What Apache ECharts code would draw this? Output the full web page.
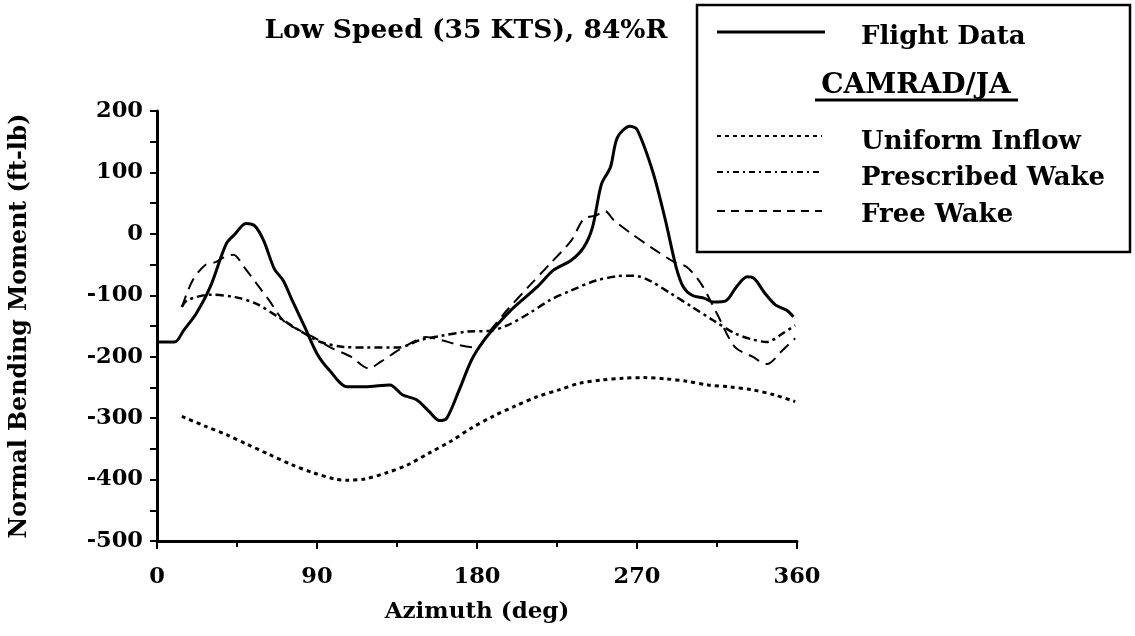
<!DOCTYPE html>
<html><head><meta charset="utf-8">
<script src="https://cdn.jsdelivr.net/npm/echarts@6/dist/echarts.min.js"></script>
<style>html,body{margin:0;padding:0;background:#fff}#c{width:1135px;height:636px}</style>
</head><body><div id="c"></div>
<script>
const xTicks = [0, 90, 180, 270, 360];
const yTicks = [200, 100, 0, -100, -200, -300, -400, -500];

const flightAz  = [0,10,15,22,30,39,44,50,55,60,66,71,76,83,90,97,107,117,131,138,146,153,159,163,170,177,184,192,201,214,223,233,240,245,250,255,259,266,270,279,286,292,296,301,308,313,320,326,332,336,342,348,354,358];
const flightVal = [-176,-176,-157,-130,-86,-16,0,17,13,-11,-57,-76,-108,-151,-195,-222,-249,-249,-246,-262,-270,-289,-304,-300,-254,-205,-173,-146,-119,-86,-59,-43,-22,11,81,108,157,175,170,100,22,-54,-86,-100,-105,-111,-109,-86,-70,-73,-97,-116,-124,-135];

const uniformAz  = [14,27,39,51,63,76,88,100,107,117,129,141,153,165,177,189,201,214,226,238,250,262,274,286,298,310,322,335,347,359];
const uniformVal = [-297,-313,-327,-343,-359,-376,-389,-399,-401,-399,-389,-376,-357,-338,-316,-297,-281,-265,-254,-243,-238,-235,-234,-236,-240,-246,-249,-254,-262,-273];

const prescAz  = [14,17,30,44,56,68,80,92,105,117,136,148,160,175,187,197,209,221,233,247,259,268,277,289,301,313,325,335,343,352,359];
const prescVal = [-119,-108,-99,-103,-114,-135,-157,-176,-184,-185,-185,-173,-166,-159,-158,-149,-130,-108,-92,-76,-69,-68,-76,-97,-119,-141,-162,-172,-176,-162,-149];

const freeAz  = [14,20,27,33,38,43,49,56,63,71,78,88,97,109,119,126,136,146,151,160,170,180,187,197,209,221,233,240,247,252,257,267,279,291,298,306,315,325,335,343,352,359];
const freeVal = [-119,-76,-51,-46,-38,-34,-54,-81,-108,-141,-154,-168,-184,-200,-219,-208,-189,-173,-168,-173,-181,-185,-159,-124,-86,-49,-11,24,30,37,22,0,-24,-46,-54,-81,-130,-184,-200,-212,-189,-170];

const zip = (a, b) => a.map((x, i) => [x, b[i]]);
const FONT = '"DejaVu Serif", "Liberation Serif", serif';

const chart = echarts.init(document.getElementById('c'), null, {renderer: 'canvas'});
const lineS = (name, az, val, type, w) => ({
  name, type: 'line', data: zip(az, val), showSymbol: false, smooth: 0.3,
  lineStyle: {color: '#000', width: w, type: type}, z: 3
});
const lg = {fontFamily: FONT, fontWeight: 'bold', fontSize: 26, fill: '#000', textVerticalAlign: 'middle'};

chart.setOption({
  animation: false,
  backgroundColor: '#fff',
  title: {
    text: 'Low Speed (35 KTS), 84%R', left: 461, top: 13, textAlign: 'center',
    textStyle: {fontFamily: FONT, fontWeight: 'bold', fontSize: 26.5, color: '#000'}
  },
  grid: {left: 157, right: 338, top: 111, bottom: 95, containLabel: false, outerBoundsMode: 'none'},
  xAxis: {
    type: 'value', min: 0, max: 360, interval: 90,
    name: 'Azimuth (deg)', nameLocation: 'middle', nameGap: 60,
    nameTextStyle: {fontFamily: FONT, fontWeight: 'bold', fontSize: 23, color: '#000'},
    axisLine: {onZero: false, lineStyle: {color: '#000', width: 3}},
    axisTick: {show: true, length: 8, lineStyle: {color: '#000', width: 2}},
    minorTick: {show: true, splitNumber: 2, length: 6, lineStyle: {color: '#000', width: 2}},
    splitLine: {show: false},
    axisLabel: {fontFamily: FONT, fontWeight: 'bold', fontSize: 22.5, color: '#000', margin: 25,
      formatter: v => xTicks.includes(v) ? String(v) : ''}
  },
  yAxis: {
    type: 'value', min: -500, max: 200, interval: 100,
    name: 'Normal Bending Moment (ft-lb)', nameLocation: 'middle', nameGap: 125,
    nameTextStyle: {fontFamily: FONT, fontWeight: 'bold', fontSize: 23.7, color: '#000'},
    axisLine: {show: true, onZero: false, lineStyle: {color: '#000', width: 3}},
    axisTick: {show: true, length: 7, lineStyle: {color: '#000', width: 2}},
    minorTick: {show: true, splitNumber: 2, length: 7, lineStyle: {color: '#000', width: 2}},
    splitLine: {show: false},
    axisLabel: {fontFamily: FONT, fontWeight: 'bold', fontSize: 22.5, color: '#000', margin: 14,
      formatter: v => yTicks.includes(v) ? String(v) : ''}
  },
  series: [
    lineS('Flight Data', flightAz, flightVal, 'solid', 3),
    lineS('Uniform Inflow', uniformAz, uniformVal, [4, 4], 3),
    lineS('Prescribed Wake', prescAz, prescVal, [8, 4, 3, 4], 2.5),
    lineS('Free Wake', freeAz, freeVal, [12, 7], 2)
  ],
  graphic: [
    {type: 'rect', shape: {x: 697, y: 5, width: 433, height: 247}, style: {fill: '#fff', stroke: '#000', lineWidth: 2.5}, z: 10},
    {type: 'line', shape: {x1: 717, y1: 32, x2: 825, y2: 32}, style: {stroke: '#000', lineWidth: 3}, z: 11},
    {type: 'text', x: 861, y: 37, style: Object.assign({text: 'Flight Data'}, lg), z: 11},
    {type: 'text', x: 916, y: 86, style: Object.assign({text: 'CAMRAD/JA', textAlign: 'center'}, lg, {fontSize: 28}), z: 11},
    {type: 'line', shape: {x1: 815, y1: 100, x2: 1018, y2: 100}, style: {stroke: '#000', lineWidth: 3}, z: 11},
    {type: 'line', shape: {x1: 717, y1: 136, x2: 822, y2: 136}, style: {stroke: '#000', lineWidth: 2, lineDash: [4, 4]}, z: 11},
    {type: 'text', x: 861, y: 142, style: Object.assign({text: 'Uniform Inflow'}, lg), z: 11},
    {type: 'line', shape: {x1: 717, y1: 172, x2: 822, y2: 172}, style: {stroke: '#000', lineWidth: 2, lineDash: [6, 4, 2, 4]}, z: 11},
    {type: 'text', x: 861, y: 178, style: Object.assign({text: 'Prescribed Wake'}, lg), z: 11},
    {type: 'line', shape: {x1: 717, y1: 211, x2: 822, y2: 211}, style: {stroke: '#000', lineWidth: 2, lineDash: [8, 6]}, z: 11},
    {type: 'text', x: 861, y: 215, style: Object.assign({text: 'Free Wake'}, lg), z: 11}
  ]
});
</script></body></html>
